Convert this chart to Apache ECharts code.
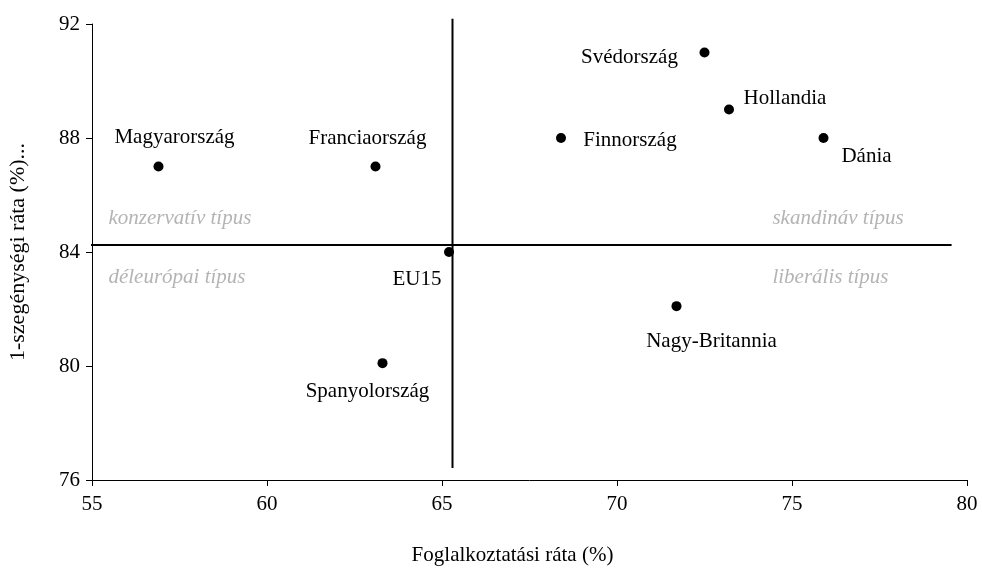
<!DOCTYPE html>
<html lang="hu">
<head>
  <meta charset="UTF-8">
  <script src="https://cdn.jsdelivr.net/npm/echarts@6/dist/echarts.min.js"></script>
  <title>Foglalkoztatás és szegénység</title>
  <style>
    html, body { margin: 0; height: 100%; background: #fff; }
    #chart { width: 982px; height: 572px; }
  </style>
</head>
<body>
  <div id="chart"></div>
  <script type="text/javascript">
    // országok, foglalkoztatási ráta (x) és 1-szegénységi ráta (y)
    var countries = ['Magyarország', 'Franciaország', 'EU15', 'Spanyolország', 'Svédország', 'Hollandia', 'Finnország', 'Dánia', 'Nagy-Britannia'];
    var employment = [56.9, 63.1, 65.2, 63.3, 72.5, 73.2, 68.4, 75.9, 71.7];
    var nonPoverty = [87.0, 87.0, 84.0, 80.1, 91.0, 89.0, 88.0, 88.0, 82.1];
    // címkék eltolása a ponthoz képest (px)
    var labelOffsets = [[16, -29], [-8, -28], [-32, 27], [-15, 28], [-75, 5], [56, -11], [69, 2], [43, 18], [35, 35]];

    // negyedek elnevezései
    var quadNames = ['konzervatív típus', 'déleurópai típus', 'skandináv típus', 'liberális típus'];
    var quadX = [55.47, 55.47, 74.44, 74.44];
    var quadY = [85.16, 83.12, 85.16, 83.12];

    // választóvonalak
    var vLineX = [65.3, 65.3];
    var vLineY = [92.18, 76.42];
    var hLineX = [54.64, 79.56];
    var hLineY = [84.25, 84.25];

    var xTicks = [55, 80, 5];
    var yTicks = [76, 92, 4];

    var font = 'Liberation Serif, Times New Roman, serif';

    var points = countries.map(function (c, i) {
      return {
        value: [employment[i], nonPoverty[i]],
        name: c,
        label: { offset: labelOffsets[i] }
      };
    });

    var quadData = quadNames.map(function (t, i) {
      return { value: [quadX[i], quadY[i]], name: t };
    });

    var chart = echarts.init(document.getElementById('chart'));
    var option = {
      animation: false,
      grid: { left: 92, right: 15, top: 24, bottom: 92, outerBoundsMode: 'none', containLabel: false },
      xAxis: {
        type: 'value',
        min: xTicks[0],
        max: xTicks[1],
        interval: xTicks[2],
        name: 'Foglalkoztatási ráta (%)',
        nameLocation: 'middle',
        nameGap: 65,
        nameTextStyle: { fontFamily: font, fontSize: 21, color: '#000', padding: [0, 34, 0, 0] },
        axisLine: { onZero: false, lineStyle: { color: '#000', width: 1 } },
        axisTick: { length: 6, lineStyle: { color: '#000' } },
        axisLabel: { fontFamily: font, fontSize: 21, color: '#000', margin: 14 },
        splitLine: { show: false }
      },
      yAxis: {
        type: 'value',
        min: yTicks[0],
        max: yTicks[1],
        interval: yTicks[2],
        name: '1-szegénységi ráta (%)...',
        nameLocation: 'middle',
        nameGap: 63,
        nameTextStyle: { fontFamily: font, fontSize: 22, color: '#000' },
        axisLine: { onZero: false, lineStyle: { color: '#000', width: 1 } },
        axisTick: { length: 6, lineStyle: { color: '#000' } },
        axisLabel: { fontFamily: font, fontSize: 21, color: '#000', margin: 12 },
        splitLine: { show: false }
      },
      series: [{
        type: 'line',
        data: vLineX.map(function (x, i) { return [x, vLineY[i]]; }),
        symbol: 'none',
        clip: false,
        lineStyle: { color: '#000', width: 2 },
        silent: true
      }, {
        type: 'line',
        data: hLineX.map(function (x, i) { return [x, hLineY[i]]; }),
        symbol: 'none',
        clip: false,
        lineStyle: { color: '#000', width: 2 },
        silent: true
      }, {
        type: 'scatter',
        data: points,
        symbolSize: 10,
        itemStyle: { color: '#000', opacity: 1 },
        label: {
          show: true,
          position: 'inside',
          align: 'center',
          verticalAlign: 'middle',
          formatter: '{b}',
          fontFamily: font,
          fontSize: 21,
          color: '#000'
        },
        z: 5
      }, {
        type: 'scatter',
        data: quadData,
        symbolSize: 0,
        silent: true,
        label: {
          show: true,
          position: 'right',
          distance: 0,
          formatter: '{b}',
          fontFamily: font,
          fontStyle: 'italic',
          fontSize: 21,
          color: '#a0a0a0'
        }
      }]
    };
    chart.setOption(option);
  </script>
</body>
</html>
